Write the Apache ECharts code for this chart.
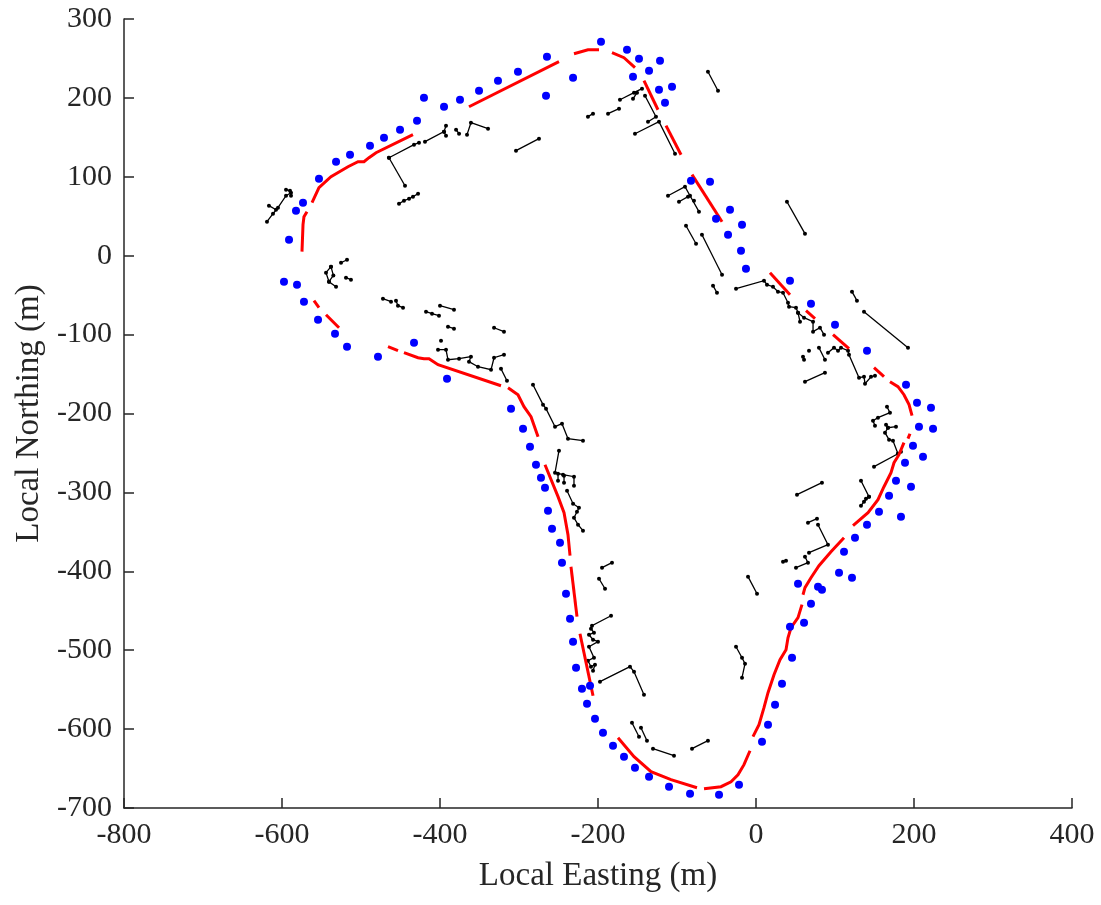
<!DOCTYPE html>
<html>
<head>
<meta charset="utf-8">
<script src="https://cdn.jsdelivr.net/npm/echarts@6/dist/echarts.min.js"></script>
<style>
  html, body { margin: 0; padding: 0; background: #fff; }
  #main { width: 1101px; height: 905px; }
</style>
</head>
<body>
<div id="main"></div>
<script>
// axis range (m)
var xRange = [-800, 400, 200];
var yRange = [-700, 300, 100];

// blue dots: [easting, northing]
var blueDots = [
  [-597.5,-33.0],[-581.0,-36.8],[-572.2,-58.3],[-554.4,-81.1],[-532.9,-98.9],[-517.7,-115.3],
  [-478.5,-128.0],[-432.9,-110.3],[-391.1,-156.0],[-591.1,20.3],[-582.3,57.0],[-573.4,67.2],
  [-553.2,97.6],[-531.6,119.1],[-513.9,128.0],[-488.6,139.4],[-470.9,149.6],[-450.6,159.7],
  [-429.1,171.1],[-420.3,200.3],[-394.9,188.8],[-374.7,197.7],[-350.6,209.1],[-326.6,221.8],
  [-301.3,233.2],[-264.6,252.2],[-265.8,202.8],[-231.6,225.6],[-196.2,271.2],[-163.3,261.1],
  [-148.1,249.7],[-121.5,247.1],[-135.4,234.5],[-155.7,226.9],[-122.8,210.4],[-106.3,214.2],
  [-115.2,193.9],[-82.3,95.1],[-58.2,93.8],[-32.9,58.3],[-50.6,46.9],[-17.7,39.3],
  [-35.4,26.6],[-19.0,6.3],[-12.7,-16.5],[43.0,-31.7],[69.6,-60.8],[100.0,-87.5],
  [140.5,-120.4],[189.9,-163.5],[203.8,-186.3],[221.5,-192.6],[206.3,-216.7],[224.1,-219.3],
  [198.7,-240.8],[211.4,-254.8],[188.6,-262.4],[177.2,-285.2],[196.2,-292.8],[168.4,-304.2],
  [155.7,-324.5],[183.5,-330.8],[140.5,-340.9],[125.3,-357.4],[111.4,-375.2],[105.1,-401.8],
  [121.5,-408.1],[53.2,-415.7],[78.5,-419.5],[83.5,-423.3],[69.6,-441.1],[60.8,-465.1],
  [43.0,-470.2],[45.6,-509.5],[32.9,-542.5],[24.1,-569.1],[15.2,-594.4],[7.6,-616.0],
  [-21.5,-670.5],[-46.8,-683.1],[-83.5,-681.9],[-110.1,-673.0],[-135.4,-660.3],[-153.2,-648.9],
  [-167.1,-635.0],[-181.0,-621.0],[-193.7,-604.6],[-203.8,-586.8],[-213.9,-567.8],[-210.1,-545.0],
  [-220.3,-548.8],[-227.8,-522.2],[-231.6,-489.2],[-235.4,-460.1],[-240.5,-428.4],[-245.6,-389.1],
  [-248.1,-363.7],[-258.2,-346.0],[-263.3,-323.2],[-267.1,-294.0],[-272.2,-281.4],[-278.5,-264.9],
  [-286.1,-242.1],[-294.9,-219.3],[-310.1,-193.9]
];

// red track pieces
var redTracks = [
  [[-574.7,5.1],[-573.4,39.3],[-572.2,49.4],[-568.4,55.8]],
  [[-562.0,67.2],[-553.2,86.2],[-538.0,100.1],[-516.5,112.8],[-503.8,119.1],[-496.2,119.1],[-489.9,124.2],[-481.0,130.5],[-434.2,153.4]],
  [[-363.3,188.8],[-249.4,245.9]],
  [[-230.4,256.0],[-212.7,261.1],[-198.7,261.1]],
  [[-182.3,257.3],[-167.1,251.0],[-153.2,238.3]],
  [[-141.8,221.8],[-124.1,185.0]],
  [[-113.9,164.8],[-94.9,128.0]],
  [[-81.0,102.7],[-43.0,43.1]],
  [[17.7,-21.5],[43.0,-49.4]],
  [[63.3,-69.7],[74.7,-79.8]],
  [[97.5,-100.1],[117.7,-117.9]],
  [[149.4,-141.9],[162.0,-153.4]],
  [[169.6,-159.7],[179.7,-166.0],[187.3,-176.2],[193.7,-188.8],[197.5,-202.8]],
  [[194.9,-225.6],[192.4,-231.9]],
  [[187.3,-237.0],[181.0,-252.2],[174.7,-262.4],[170.9,-275.0],[162.0,-292.8],[154.4,-309.3],[141.8,-325.7],[122.8,-342.2]],
  [[111.4,-357.4],[94.9,-375.2],[79.7,-392.9],[69.6,-408.1],[62.0,-420.8],[59.5,-429.7]],
  [[58.2,-442.3],[53.2,-458.8],[44.3,-471.5],[40.5,-484.2],[38.0,-499.4],[30.4,-512.0],[22.8,-531.1],[15.2,-553.9],[10.1,-572.9],[3.8,-594.4],[-3.8,-609.6]],
  [[-7.6,-627.4],[-15.2,-645.1],[-22.8,-657.8],[-31.6,-666.7],[-44.3,-673.0],[-65.8,-675.5]],
  [[-74.7,-674.3],[-107.6,-664.1],[-132.9,-654.0],[-154.4,-635.0],[-174.7,-610.9]],
  [[-206.3,-557.7],[-222.8,-479.1]],
  [[-226.6,-457.5],[-234.2,-394.2]],
  [[-235.4,-380.2],[-238.0,-353.6],[-243.0,-325.7],[-250.6,-305.4],[-267.1,-264.9]],
  [[-275.9,-229.4],[-284.8,-204.1],[-293.7,-191.4],[-301.3,-176.2],[-313.9,-167.3]],
  [[-322.8,-164.8],[-402.5,-138.1],[-413.9,-130.5],[-420.3,-130.5],[-427.8,-129.3],[-445.6,-122.9]],
  [[-453.2,-120.4],[-465.8,-115.3]],
  [[-527.8,-91.3],[-544.3,-74.8]],
  [[-553.2,-65.9],[-559.5,-57.0]]
];

// black short tracks
var blackTracks = [
  [[-619.0,43.1],[-611.4,53.2],[-605.1,60.8],[-594.9,76.0],[-588.6,79.8]],
  [[-594.9,83.7],[-589.9,82.4],[-588.6,76.0]],
  [[-616.5,63.4],[-607.6,58.3]],
  [[-464.6,124.2],[-444.3,88.7]],
  [[-464.6,124.2],[-432.9,140.7],[-426.6,143.2]],
  [[-419.0,144.5],[-394.9,157.2],[-392.4,164.8]],
  [[-394.9,157.2],[-392.4,152.1]],
  [[-379.7,159.7],[-375.9,154.6]],
  [[-365.8,153.4],[-360.8,168.6],[-339.2,161.0]],
  [[-451.9,65.9],[-445.6,69.7],[-439.2,72.2],[-434.2,74.8],[-427.8,78.6]],
  [[-525.3,-8.9],[-517.7,-5.1]],
  [[-538.0,-13.9],[-544.3,-21.5],[-540.5,-33.0],[-531.6,-39.3]],
  [[-538.0,-13.9],[-535.0,-25.0],[-540.5,-33.0]],
  [[-519.0,-27.9],[-512.7,-30.4]],
  [[-472.2,-54.5],[-462.0,-58.3]],
  [[-455.7,-57.0],[-453.2,-63.4],[-446.8,-65.9]],
  [[-400.0,-63.4],[-382.3,-68.4]],
  [[-417.7,-71.0],[-410.1,-73.5],[-401.3,-76.0]],
  [[-389.9,-90.0],[-382.3,-92.5]],
  [[-331.6,-91.3],[-319.0,-96.3]],
  [[-398.7,-107.7]],
  [[-402.5,-119.1],[-392.4,-119.1],[-389.9,-131.8],[-375.9,-130.5],[-360.8,-128.0],[-363.3,-134.3],[-351.9,-140.7],[-335.4,-144.5],[-331.6,-129.3],[-319.0,-125.5]],
  [[-322.8,-143.2],[-315.2,-158.4]],
  [[-282.3,-163.5],[-269.6,-188.8],[-265.8,-193.9],[-254.4,-216.7],[-245.6,-212.9],[-238.0,-231.9],[-219.0,-234.5]],
  [[-249.4,-247.1],[-254.4,-275.0],[-244.3,-277.6],[-230.4,-280.1],[-230.4,-291.5]],
  [[-250.6,-276.3],[-250.6,-285.2]],
  [[-243.0,-278.8],[-243.0,-287.7]],
  [[-239.2,-297.8],[-231.6,-314.3],[-224.1,-319.4],[-226.6,-324.5],[-230.4,-332.1],[-225.3,-340.9],[-219.0,-348.5]],
  [[-54.4,-38.0],[-49.4,-46.9]],
  [[-303.8,133.1],[-274.7,148.3]],
  [[-212.7,176.2],[-206.3,180.0]],
  [[-187.3,180.0],[-173.4,186.3]],
  [[-172.2,197.7],[-154.4,206.6],[-144.3,211.7]],
  [[-155.7,198.9],[-150.6,206.6]],
  [[-140.5,202.8],[-126.6,176.2],[-136.7,169.8]],
  [[-153.2,154.6],[-122.8,169.8],[-102.5,129.3]],
  [[-60.8,233.2],[-48.1,209.1]],
  [[-111.4,76.0],[-89.9,87.5],[-83.5,76.0],[-72.2,55.8]],
  [[-97.5,68.4],[-86.1,74.8]],
  [[-78.5,69.7]],
  [[-88.6,38.0],[-75.9,15.2]],
  [[-68.4,26.6],[-43.0,-24.1]],
  [[39.2,68.4],[62.0,27.9]],
  [[-25.3,-41.8],[10.1,-31.7],[13.9,-36.8],[21.5,-39.3],[27.8,-45.6],[34.2,-46.9],[40.5,-59.6],[41.8,-64.6],[50.6,-65.9],[53.2,-72.2],[60.8,-78.6],[72.2,-83.7],[72.2,-96.3],[81.0,-91.3],[86.1,-100.1]],
  [[53.2,-72.2],[55.7,-83.7]],
  [[121.5,-45.6],[127.8,-57.0]],
  [[136.7,-71.0],[192.4,-116.6]],
  [[67.1,-120.4]],
  [[59.5,-128.0],[60.8,-131.8]],
  [[79.7,-116.6],[87.3,-131.8]],
  [[91.1,-122.9],[98.7,-116.6],[103.8,-120.4],[107.6,-116.6],[116.5,-120.4],[117.7,-125.5],[130.4,-154.6],[136.7,-153.4],[138.0,-162.2],[145.6,-153.4],[150.6,-152.1]],
  [[62.0,-159.7],[87.3,-148.3]],
  [[165.8,-191.4],[169.6,-199.0],[154.4,-205.3],[148.1,-209.1],[150.6,-215.5]],
  [[164.6,-214.2],[167.1,-218.0],[177.2,-216.7]],
  [[167.1,-218.0],[163.3,-224.3],[168.4,-233.2],[173.4,-234.5],[179.7,-251.0],[183.5,-248.4]],
  [[149.4,-267.4],[179.7,-251.0]],
  [[51.9,-302.9],[83.5,-287.7]],
  [[132.9,-285.2],[143.0,-305.4],[136.7,-311.8],[132.9,-316.9]],
  [[143.0,-305.4],[139.2,-308.0]],
  [[65.8,-338.4],[77.2,-333.3]],
  [[78.5,-340.9],[91.1,-366.3],[67.1,-376.4]],
  [[62.0,-381.5],[65.8,-389.1],[50.6,-395.4]],
  [[34.2,-387.8],[38.0,-386.6]],
  [[-10.1,-406.8],[1.3,-428.4]],
  [[-25.3,-495.6],[-17.7,-509.5],[-13.9,-517.1],[-17.7,-534.9]],
  [[-194.9,-395.4],[-182.3,-389.1]],
  [[-198.7,-409.4],[-191.1,-422.1]],
  [[-183.5,-456.3],[-207.6,-469.0],[-208.9,-472.7],[-205.1,-477.8],[-211.4,-480.4],[-206.3,-486.7],[-200.0,-489.2],[-211.4,-495.6],[-205.1,-509.5],[-212.7,-513.3],[-208.9,-520.9],[-203.8,-518.4],[-206.3,-526.0]],
  [[-197.5,-539.9],[-159.5,-520.9],[-154.4,-527.3],[-141.8,-556.4]],
  [[-157.0,-591.9],[-148.1,-609.6]],
  [[-145.6,-598.2],[-138.0,-614.7]],
  [[-130.4,-624.8],[-103.8,-633.7]],
  [[-81.0,-624.8],[-60.8,-614.7]]
];

var blackDots = [];
blackTracks.forEach(function (t) { t.forEach(function (p) { blackDots.push(p); }); });
var blackLines = blackTracks.filter(function (t) { return t.length > 1; });

var axisColor = '#262626';
var fontName = 'Liberation Serif';

var dom = document.getElementById('main');
var myChart = echarts.init(dom, null, { renderer: 'canvas' });
var option = {
  backgroundColor: '#ffffff',
  animation: false,
  grid: { left: 124, right: 29, top: 19, bottom: 97 },
  xAxis: {
    type: 'value',
    min: xRange[0], max: xRange[1], interval: xRange[2],
    name: 'Local Easting (m)',
    nameLocation: 'middle',
    nameGap: 52,
    nameTextStyle: { fontFamily: fontName, fontSize: 33, color: axisColor },
    axisLine: { show: true, onZero: false, lineStyle: { color: axisColor, width: 1.5 } },
    axisTick: { show: true, inside: true, length: 10, lineStyle: { color: axisColor, width: 1.5 } },
    axisLabel: { fontFamily: fontName, fontSize: 30, color: axisColor, margin: 12 },
    splitLine: { show: false }
  },
  yAxis: {
    type: 'value',
    min: yRange[0], max: yRange[1], interval: yRange[2],
    name: 'Local Northing (m)',
    nameLocation: 'middle',
    nameGap: 72,
    nameTextStyle: { fontFamily: fontName, fontSize: 33, color: axisColor },
    axisLine: { show: true, onZero: false, lineStyle: { color: axisColor, width: 1.5 } },
    axisTick: { show: true, inside: true, length: 10, lineStyle: { color: axisColor, width: 1.5 } },
    axisLabel: { fontFamily: fontName, fontSize: 30, color: axisColor, margin: 12 },
    splitLine: { show: false }
  },
  series: [
    {
      type: 'lines',
      coordinateSystem: 'cartesian2d',
      polyline: true,
      silent: true,
      lineStyle: { color: '#000000', width: 1.3, opacity: 1 },
      data: blackLines.map(function (t) { return { coords: t }; }),
      z: 2
    },
    {
      type: 'scatter',
      symbol: 'circle',
      symbolSize: 4,
      itemStyle: { color: '#000000', opacity: 1 },
      data: blackDots,
      z: 3
    },
    {
      type: 'lines',
      coordinateSystem: 'cartesian2d',
      polyline: true,
      silent: true,
      lineStyle: { color: '#ff0000', width: 3, opacity: 1 },
      data: redTracks.map(function (t) { return { coords: t }; }),
      z: 4
    },
    {
      type: 'scatter',
      symbol: 'circle',
      symbolSize: 8,
      itemStyle: { color: '#0000ff', opacity: 1 },
      data: blueDots,
      z: 5
    }
  ]
};
myChart.setOption(option, true);
</script>
</body>
</html>
